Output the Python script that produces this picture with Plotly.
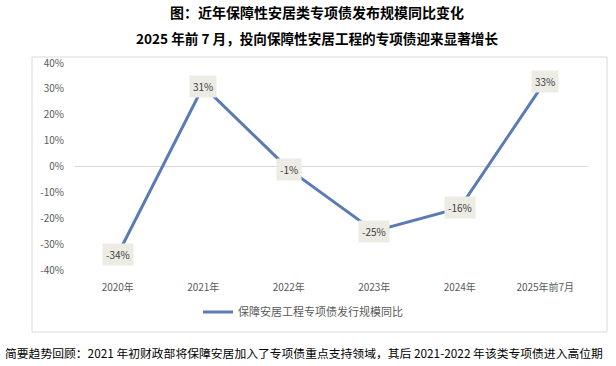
import plotly.graph_objects as go

categories = ["2020年", "2021年", "2022年", "2023年", "2024年", "2025年前7月"]
values = [-0.34, 0.31, -0.01, -0.25, -0.16, 0.33]
labels = ["-34%", "31%", "-1%", "-25%", "-16%", "33%"]
y_ticks = [-0.4, -0.3, -0.2, -0.1, 0, 0.1, 0.2, 0.3, 0.4]
y_ticklabels = ["-40%", "-30%", "-20%", "-10%", "0%", "10%", "20%", "30%", "40%"]
series_name = "保障安居工程专项债发行规模同比"

W, H = 616, 366
ml, mr, mt, mb = 75, 28, 63, 96
pw, ph = W - ml - mr, H - mt - mb

def px_x(x):
    return (x - ml) / pw

def px_y(y):
    return (H - mb - y) / ph

font_fam = "Noto Sans CJK SC, Microsoft YaHei, sans-serif"

fig = go.Figure()
fig.add_trace(go.Scatter(
    x=categories, y=values, mode="lines", name=series_name,
    line=dict(color="#5b7bb4", width=3),
))

for c, v, t in zip(categories, values, labels):
    fig.add_annotation(x=c, y=v, text=t, showarrow=False,
                       bgcolor="#ecebe4", font=dict(size=10, color="#404040", family=font_fam),
                       borderpad=3)

# outer chart frame
fig.add_shape(type="rect", xref="paper", yref="paper",
              x0=px_x(32), x1=px_x(607), y0=px_y(57), y1=px_y(332),
              line=dict(color="#d9d9d9", width=1), fillcolor="rgba(0,0,0,0)", layer="below")

fig.add_annotation(xref="paper", yref="paper", x=px_x(317), y=px_y(12),
                   text="<b>图：近年保障性安居类专项债发布规模同比变化</b>", showarrow=False,
                   xanchor="center", yanchor="middle",
                   font=dict(size=14, color="#000000", family=font_fam))
fig.add_annotation(xref="paper", yref="paper", x=px_x(317), y=px_y(38),
                   text="<b>2025 年前 7 月，投向保障性安居工程的专项债迎来显著增长</b>", showarrow=False,
                   xanchor="center", yanchor="middle",
                   font=dict(size=13.6, color="#000000", family=font_fam))
fig.add_annotation(xref="paper", yref="paper", x=px_x(3), y=px_y(352),
                   text="简要趋势回顾：2021 年初财政部将保障安居加入了专项债重点支持领域，其后 2021-2022 年该类专项债进入高位期",
                   showarrow=False, xanchor="left", yanchor="middle",
                   font=dict(size=11.8, color="#000000", family=font_fam))

fig.update_layout(
    width=W, height=H,
    margin=dict(l=ml, r=mr, t=mt, b=mb),
    paper_bgcolor="white", plot_bgcolor="white",
    showlegend=True,
    legend=dict(orientation="h", x=px_x(303), y=px_y(312), xanchor="center", yanchor="middle",
                font=dict(size=11, color="#595959", family=font_fam)),
    xaxis=dict(range=[-0.5, 5.5], showgrid=False, showline=False, ticks="", zeroline=False,
               ticklabelstandoff=10,
               tickfont=dict(size=10, color="#595959", family=font_fam)),
    yaxis=dict(range=[-0.4, 0.4], tickvals=y_ticks, ticktext=y_ticklabels,
               showgrid=False, zeroline=True, zerolinecolor="#d9d9d9", zerolinewidth=1,
               showline=False, ticks="", ticklabelstandoff=10,
               tickfont=dict(size=10, color="#595959", family=font_fam)),
)

fig.write_html("out.html", config={"displayModeBar": False},
               post_script="document.body.style.margin='0';document.body.style.padding='0';")
